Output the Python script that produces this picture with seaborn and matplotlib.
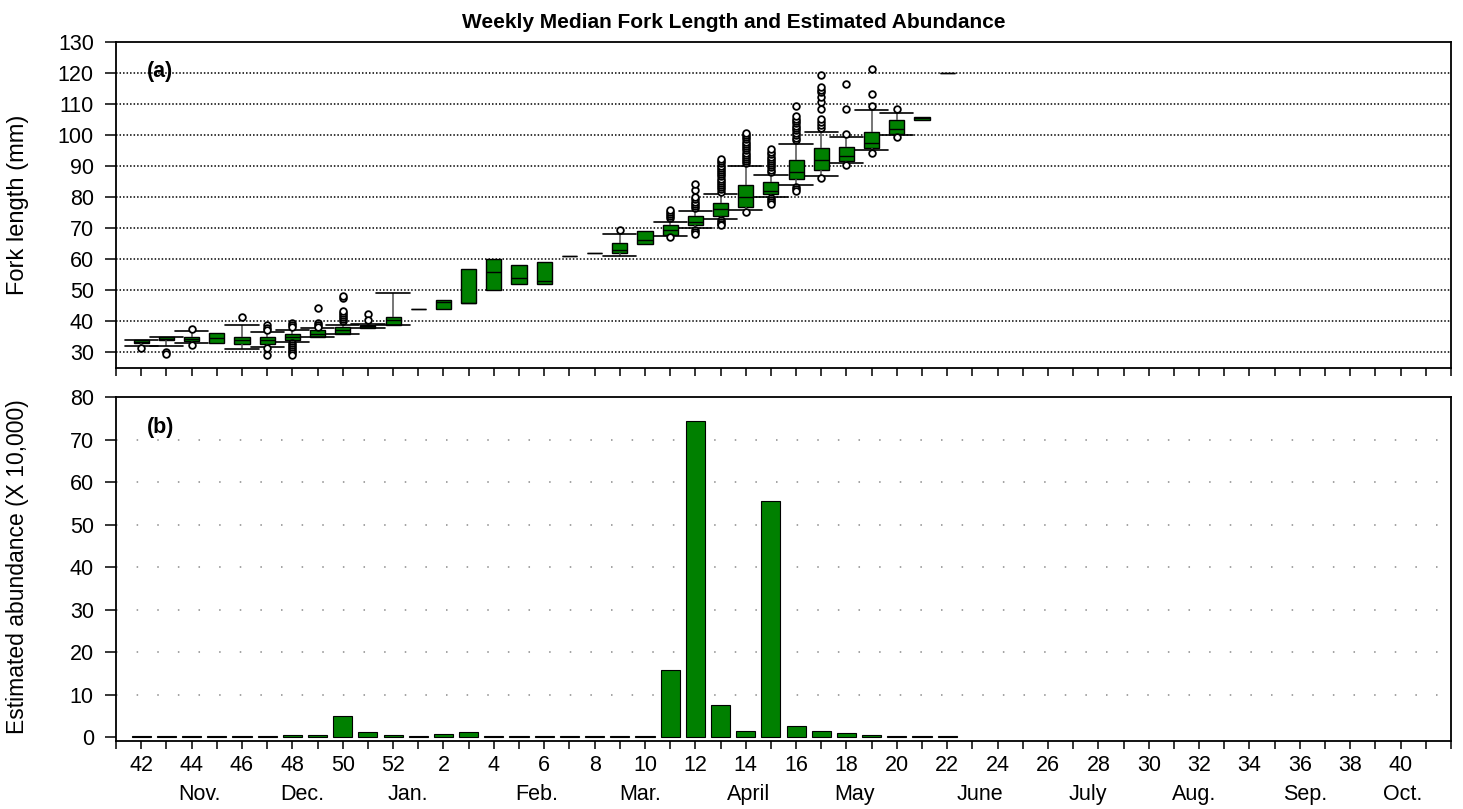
import numpy as np
import pandas as pd
import matplotlib
matplotlib.use("Agg")
import matplotlib.pyplot as plt
import matplotlib.transforms as mtransforms
import seaborn as sns

# ---------------- data ----------------
weeks = [str(w) for w in list(range(42, 53)) + list(range(1, 42))]

box_weeks = ['42', '43', '44', '45', '46', '47', '48', '49', '50', '51', '52',
             '1', '2', '3', '4', '5', '6', '7', '8', '9', '10', '11', '12',
             '13', '14', '15', '16', '17', '18', '19', '20', '21', '22']
whisk_lo = [32.0, 32.0, 32.9, 33.2, 31.1, 31.9, 33.3, 34.9, 35.9, 37.8, 38.9,
            44.0, 44.0, 46.0, 50.0, 52.0, 52.0, 61.1, 62.0, 61.1, 65.0, 67.5, 70.0,
            73.0, 75.9, 80.0, 84.1, 87.0, 91.1, 95.1, 99.9, 105.0, 120.0]
q1 = [33.0, 33.9, 33.8, 33.2, 32.8, 32.8, 33.9, 34.9, 35.9, 38.0, 38.9,
      44.0, 44.0, 46.0, 50.0, 52.0, 52.0, 61.1, 62.0, 62.0, 65.0, 67.8, 70.9,
      74.0, 77.0, 80.9, 85.8, 88.9, 91.8, 95.9, 100.5, 105.0, 120.0]
median = [33.5, 34.4, 34.5, 34.8, 34.0, 33.9, 34.9, 36.1, 37.1, 38.5, 40.5,
          44.0, 46.2, 46.0, 55.9, 54.0, 53.0, 61.1, 62.0, 63.1, 66.2, 69.3, 72.0,
          76.2, 80.1, 82.1, 88.0, 92.0, 93.4, 97.6, 102.1, 105.4, 120.0]
q3 = [34.0, 34.9, 35.1, 36.2, 34.9, 34.9, 35.9, 37.1, 38.1, 39.0, 41.4,
      44.0, 47.0, 57.0, 60.1, 58.1, 59.3, 61.1, 62.0, 65.1, 69.2, 71.0, 74.0,
      78.0, 84.0, 85.0, 91.9, 96.0, 96.3, 100.9, 105.0, 106.0, 120.0]
whisk_hi = [34.0, 34.9, 36.8, 36.2, 38.8, 36.5, 37.1, 37.8, 38.9, 39.2, 49.1,
            44.0, 47.0, 57.0, 60.1, 58.1, 59.3, 61.1, 62.0, 68.1, 69.2, 72.0, 75.6,
            81.1, 90.0, 87.1, 97.0, 100.9, 99.4, 108.0, 107.1, 106.0, 120.0]
whiskers_drawn = [True, True, True, False, True, True, True, True, True, True, True,
                  False, False, False, False, False, False, False, False, True, False, True, True,
                  True, True, True, True, True, True, True, True, False, False]

fliers = {
    '42': [31.3],
    '43': [30.3, 29.4],
    '44': [37.5, 32.3],
    '46': [41.4],
    '47': [38.7, 37.9, 37.2, 31.4, 29.3],
    '48': [39.6, 38.9, 38.2, 32.9, 32.3, 31.7, 31.1, 30.5, 29.9, 29.3],
    '49': [44.3, 39.6, 38.9, 38.3],
    '50': [40.0, 40.7, 41.4, 42.1, 42.8, 43.5, 47.4, 48.3],
    '51': [42.4, 40.5],
    '9': [69.5],
    '11': [73.2, 73.9, 74.6, 75.3, 75.9, 67.1],
    '12': [76.5, 77.2, 77.9, 78.6, 79.3, 80.0, 82.3, 84.4, 69.4, 68.8, 68.2],
    '13': [81.8, 82.5, 83.2, 83.9, 84.6, 85.3, 86.0, 86.7, 87.4, 88.1, 88.8, 89.5,
           90.2, 91.0, 91.6, 92.4, 72.6, 72.0, 71.4, 70.9],
    '14': [90.9, 91.6, 92.3, 93.0, 93.7, 94.4, 95.1, 95.8, 96.5, 97.2, 97.9, 98.6,
           99.3, 100.0, 100.6, 75.3],
    '15': [88.2, 88.9, 89.6, 90.3, 91.0, 91.7, 92.4, 93.1, 93.8, 94.5, 95.4,
           79.6, 79.0, 78.4, 77.8],
    '16': [98.5, 99.2, 100.0, 100.7, 101.5, 102.3, 103.0, 103.8, 104.6, 105.3, 106.2,
           109.3, 83.3, 82.7, 82.1],
    '17': [102.3, 103.2, 104.2, 105.3, 108.5, 110.7, 112.3, 113.9, 114.7, 115.4, 119.5, 86.3],
    '18': [100.3, 108.3, 116.4, 90.3],
    '19': [109.4, 113.2, 121.4, 94.3],
    '20': [108.5, 99.4],
}

abund_weeks = box_weeks
abundance = [0.3, 0.3, 0.3, 0.3, 0.3, 0.3, 0.5, 0.5, 4.9, 1.15, 0.5,
             0.3, 0.7, 1.07, 0.3, 0.3, 0.3, 0.3, 0.3, 0.3, 0.3, 15.8, 74.3,
             7.5, 1.45, 55.6, 2.6, 1.3, 0.9, 0.5, 0.3, 0.3, 0.2]

month_labels = ['Nov.', 'Dec.', 'Jan.', 'Feb.', 'Mar.', 'April', 'May', 'June',
                'July', 'Aug.', 'Sep.', 'Oct.']
month_pos = [2.3, 6.4, 10.6, 15.7, 19.8, 24.1, 28.3, 33.3, 37.6, 41.8, 46.2, 50.1]

# ---------------- style ----------------
sns.set_theme(style="white")
plt.rcParams['font.family'] = ['Liberation Sans', 'DejaVu Sans']
plt.rcParams['text.color'] = 'black'
plt.rcParams['axes.labelcolor'] = 'black'
plt.rcParams['xtick.color'] = 'black'
plt.rcParams['ytick.color'] = 'black'
GREEN = '#008000'

W, H = 1463, 809
fig = plt.figure(figsize=(W / 100, H / 100), dpi=100)
ax1 = fig.add_axes([116 / W, 1 - 368 / H, 1335 / W, 326 / H])
ax2 = fig.add_axes([116 / W, 1 - 741 / H, 1335 / W, 344 / H])

# long-form box data (5-number rows reproduce the read stats exactly)
rows = []
for wk, a, b, c, d, e, wd in zip(box_weeks, whisk_lo, q1, median, q3, whisk_hi, whiskers_drawn):
    for v in (a, b, c, d, e):
        rows.append({'week': wk, 'fl': v, 'whisk': wd})
box_df = pd.DataFrame(rows)

common = dict(x='week', y='fl', order=weeks, width=0.6, color=GREEN, saturation=1,
              linecolor='black', linewidth=1.0, whis=(0, 100), showfliers=False,
              medianprops={'color': 'black', 'linewidth': 1.0},
              whiskerprops={'color': '#505050', 'linewidth': 1.1},
              capprops={'color': 'black', 'linewidth': 1.2}, ax=ax1)
sns.boxplot(data=box_df[box_df['whisk']], showcaps=True, **common)
sns.boxplot(data=box_df[~box_df['whisk']], showcaps=False, **common)

# widen the whisker caps
for ln in ax1.lines:
    x = np.asarray(ln.get_xdata(), dtype=float)
    y = np.asarray(ln.get_ydata(), dtype=float)
    if len(x) == 2 and y[0] == y[1] and 0 < abs(x[1] - x[0]) < 0.45:
        c = x.mean()
        ln.set_xdata([c - 0.66, c + 0.66])

fl_rows = [{'week': wk, 'fl': v} for wk, vals in fliers.items() for v in vals]
fl_df = pd.DataFrame(fl_rows)
sns.stripplot(data=fl_df, x='week', y='fl', order=weeks, jitter=False,
              color='white', edgecolor='black', linewidth=1.3, size=4.8,
              zorder=5, ax=ax1)

# bars
ab_df = pd.DataFrame({'week': abund_weeks, 'abund': abundance})
sns.barplot(data=ab_df, x='week', y='abund', order=weeks, color=GREEN, saturation=1,
            edgecolor='black', linewidth=0.8, width=0.76, errorbar=None, ax=ax2)

# ---------------- axes formatting ----------------
for ax in (ax1, ax2):
    ax.set_xlim(-1, 52)
    ax.set_xlabel('')
    ax.set_ylabel('')
    for s in ax.spines.values():
        s.set_visible(True)
        s.set_color('black')
        s.set_linewidth(1.3)
    ax.set_xticks(range(-1, 53))
    ax.tick_params(axis='x', direction='out', length=6, width=1.1, color='black',
                   labelcolor='black', bottom=True, pad=4, labelsize=15.5)
    ax.tick_params(axis='y', direction='out', length=8, width=1.1, color='black',
                   labelcolor='black', left=True, pad=8, labelsize=15.5)
    ax.set_axisbelow(True)

ax1.set_ylim(25, 130)
ax1.set_yticks(range(30, 131, 10))
ax1.set_xticklabels([''] * 54)
ax1.yaxis.grid(False)
for v in range(30, 121, 10):
    ax1.axhline(v, color='black', linewidth=1.1, linestyle=(0, (1, 1.3)), zorder=0)

ax2.set_ylim(-0.94, 80)
ax2.set_yticks(range(0, 81, 10))
labels = []
for i in range(-1, 53):
    if 0 <= i < len(weeks) and i % 2 == 0 and i <= 50:
        labels.append(weeks[i])
    else:
        labels.append('')
ax2.set_xticklabels(labels)
for v in range(10, 71, 10):
    ax2.axhline(v, color='#8a8a8a', linewidth=1.1, linestyle=(0, (1, 12.5)), zorder=0)

trans = mtransforms.blended_transform_factory(ax2.transData, ax2.transAxes)
for lab, pos in zip(month_labels, month_pos):
    ax2.text(pos, -0.155, lab, transform=trans, ha='center', va='center',
             fontsize=15.5, color='black')

ax1.text(0.023, 0.908, '(a)', transform=ax1.transAxes, fontsize=15.5, fontweight='bold',
         ha='left', va='center', color='black')
ax2.text(0.023, 0.91, '(b)', transform=ax2.transAxes, fontsize=15.5, fontweight='bold',
         ha='left', va='center', color='black')

fig.text(0.5015, 1 - 22 / H, 'Weekly Median Fork Length and Estimated Abundance',
         ha='center', va='center', fontsize=15, fontweight='bold', color='black')
fig.text(18 / W, 1 - 205 / H, 'Fork length (mm)', rotation=90, ha='center', va='center',
         fontsize=17, color='black')
fig.text(18 / W, 1 - 567 / H, 'Estimated abundance (X 10,000)', rotation=90, ha='center',
         va='center', fontsize=16.5, color='black')

fig.savefig('out.png', dpi=100)
